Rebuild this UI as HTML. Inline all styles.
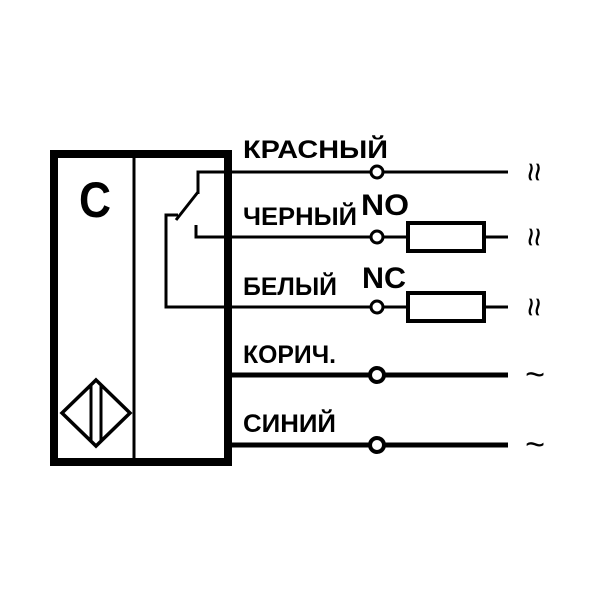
<!DOCTYPE html>
<html><head><meta charset="utf-8"><style>body{margin:0;background:#fff}svg{display:block}</style></head>
<body>
<svg width="600" height="600" viewBox="0 0 600 600" xmlns="http://www.w3.org/2000/svg" font-family="Liberation Sans, sans-serif" font-weight="bold">
<rect x="54" y="154" width="174" height="308" fill="none" stroke="#000" stroke-width="8"/>
<line x1="134" y1="154" x2="134" y2="462" stroke="#000" stroke-width="3"/>
<text x="79" y="217" font-size="50" textLength="32" lengthAdjust="spacingAndGlyphs">C</text>
<polygon points="96,380 130,413 96,446 62,413" fill="none" stroke="#000" stroke-width="3.5"/>
<line x1="91" y1="386" x2="91" y2="440" stroke="#000" stroke-width="3"/>
<line x1="101" y1="386" x2="101" y2="440" stroke="#000" stroke-width="3"/>
<g stroke="#000" fill="none" stroke-width="3">
<polyline points="232,172 198,172 198,194"/>
<line x1="198" y1="192" x2="176" y2="220"/>
<polyline points="178,215 166,215 166,307 232,307"/>
<polyline points="196,225 196,237 232,237"/>
<line x1="232" y1="172" x2="508" y2="172"/>
<line x1="232" y1="237" x2="508" y2="237"/>
<line x1="232" y1="307" x2="508" y2="307"/>
</g>
<g stroke="#000" stroke-width="5">
<line x1="232" y1="375" x2="508" y2="375"/>
<line x1="232" y1="445" x2="508" y2="445"/>
</g>
<g stroke="#000" stroke-width="4" fill="#fff">
<rect x="408" y="223" width="76" height="28"/>
<rect x="408" y="293" width="76" height="28"/>
<circle cx="377" cy="172" r="6" stroke-width="3"/>
<circle cx="377" cy="237" r="6" stroke-width="3"/>
<circle cx="377" cy="307" r="6" stroke-width="3"/>
<circle cx="377" cy="375" r="7"/>
<circle cx="377" cy="445" r="7"/>
</g>
<g font-size="25">
<text x="243" y="158" textLength="145" lengthAdjust="spacingAndGlyphs">КРАСНЫЙ</text>
<text x="243" y="225" textLength="114" lengthAdjust="spacingAndGlyphs">ЧЕРНЫЙ</text>
<text x="243" y="295" textLength="94" lengthAdjust="spacingAndGlyphs">БЕЛЫЙ</text>
<text x="243" y="363" textLength="93" lengthAdjust="spacingAndGlyphs">КОРИЧ.</text>
<text x="243" y="432" textLength="93" lengthAdjust="spacingAndGlyphs">СИНИЙ</text>
<text x="361" y="215" font-size="30" textLength="48" lengthAdjust="spacingAndGlyphs">NO</text>
<text x="362" y="288" font-size="30" textLength="44" lengthAdjust="spacingAndGlyphs">NC</text>
</g>
<g font-size="34" font-weight="normal">
<text transform="translate(533,172) rotate(90)" text-anchor="middle" dy="10">≈</text>
<text transform="translate(533,237) rotate(90)" text-anchor="middle" dy="10">≈</text>
<text transform="translate(533,307) rotate(90)" text-anchor="middle" dy="10">≈</text>
<text x="535" y="386" text-anchor="middle">~</text>
<text x="535" y="456" text-anchor="middle">~</text>
</g>
</svg>
</body></html>
